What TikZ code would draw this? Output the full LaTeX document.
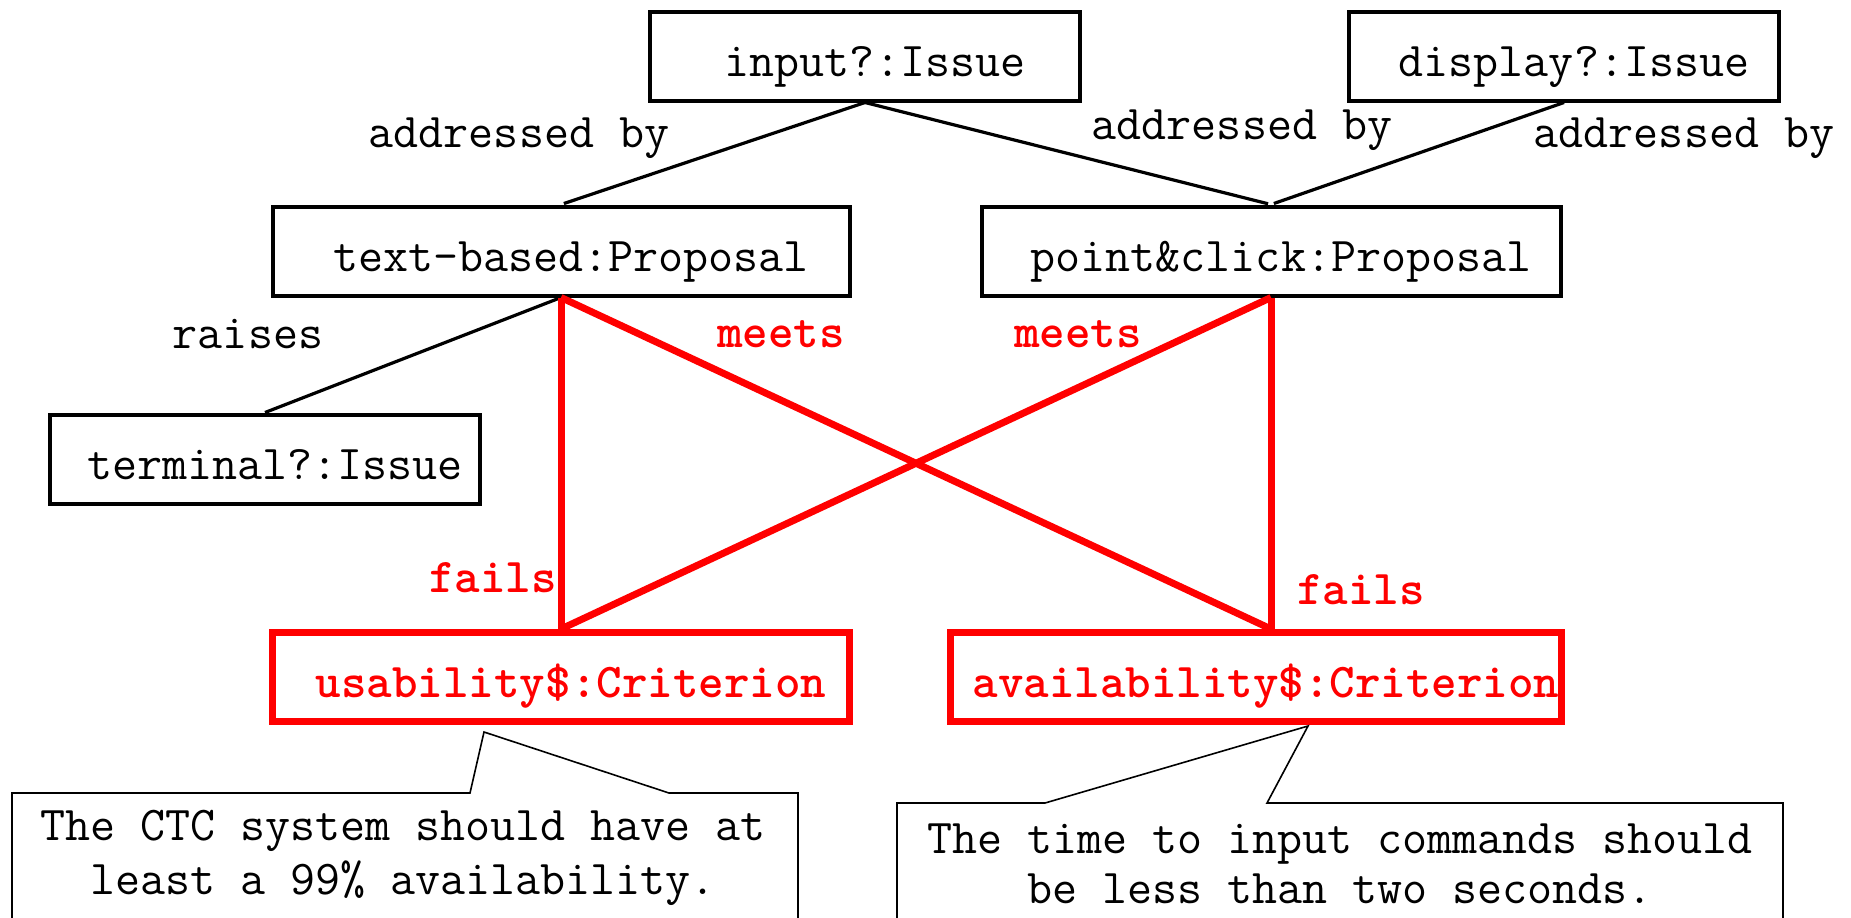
\documentclass[tikz,border=0pt]{standalone}
\newcommand\dgmono{\ttfamily\fontsize{24.3}{25}\selectfont}
\newcommand\dgmonob{\ttfamily\bfseries\fontsize{24.3}{25}\selectfont}
\newcommand\dgpad{\hspace*{10pt}}
\begin{document}
\begin{tikzpicture}[x=0.5pt,y=-0.5pt,
  issue/.style={draw, line width=2pt, minimum height=44.5pt, inner sep=0pt,
                text height=22pt, text depth=2pt, font=\dgmono},
  crit/.style={issue, draw=red, line width=3.5pt, text=red, font=\dgmonob},
  lbl/.style={inner sep=0pt, font=\dgmono},
  rlbl/.style={inner sep=0pt, text=red, font=\dgmonob},
  blk/.style={line width=1.6pt, shorten >=1.5pt},
  redl/.style={draw=red, line width=3.5pt},
  callout/.style={line width=0.8pt},
  note/.style={inner sep=0pt, align=center, font=\dgmono}]
\useasboundingbox (0,0) rectangle (1851,917);
\clip (0,0) rectangle (1851,917);

% issues, proposals and criteria
\node[issue, minimum width=215pt]   (in) at (865,56)   {\dgpad input?:Issue};
\node[issue, minimum width=215pt]   (di) at (1564,56)  {\dgpad display?:Issue};
\node[issue, minimum width=288.5pt] (tb) at (561,251)  {\dgpad text-based:Proposal};
\node[issue, minimum width=289.5pt] (pc) at (1271,251) {\dgpad point\&click:Proposal};
\node[issue, minimum width=215pt]   (te) at (265,459)  {\dgpad terminal?:Issue};
\node[crit,  minimum width=288.5pt] (us) at (561,677)  {\dgpad usability\$:Criterion};
\node[crit,  minimum width=305.5pt] (av) at (1256,677) {\dgpad availability\$:Criterion};

% black relations
\draw[blk] (in.south) -- (tb.north);
\draw[blk] (in.south) -- (pc.north);
\draw[blk] (di.south) -- (pc.north);
\draw[blk, shorten >=0pt] (tb.south) -- (te.north);

% red relations
\draw[redl] (tb.south) -- (us.north);
\draw[redl] (tb.south) -- (pc.south |- av.north);
\draw[redl] (pc.south) -- (us.north);
\draw[redl] (pc.south) -- (pc.south |- av.north);

% relation labels
\node[lbl] (l1) at (519,138)  {addressed by};
\node[lbl] (l2) at (1242,130) {addressed by};
\node[lbl] (l3) at (1684,138) {addressed by};
\node[lbl] (l4) at (248,334)  {raises};
\node[rlbl] (m1) at (781,334)  {meets};
\node[rlbl] (m2) at (1078,334) {meets};
\node[rlbl] (f1) at (493,578)  {fails};
\node[rlbl] (f2) at (1361,590) {fails};

% notes
\draw[callout] (12,940) -- (12,793) -- (470,793) -- (484,732) -- (669,793) -- (798,793) -- (798,940);
\draw[callout] (897,940) -- (897,803) -- (1045,803) -- (1308,726) -- (1267,803) -- (1783,803) -- (1783,940);
\node[note, font=\ttfamily\fontsize{24.3}{27}\selectfont] (n1) at (403,858) {The CTC system should have at\\least a 99\% availability.};
\node[note] (n2) at (1340,864) {The time to input commands should\\be less than two seconds.};
\end{tikzpicture}
\end{document}
